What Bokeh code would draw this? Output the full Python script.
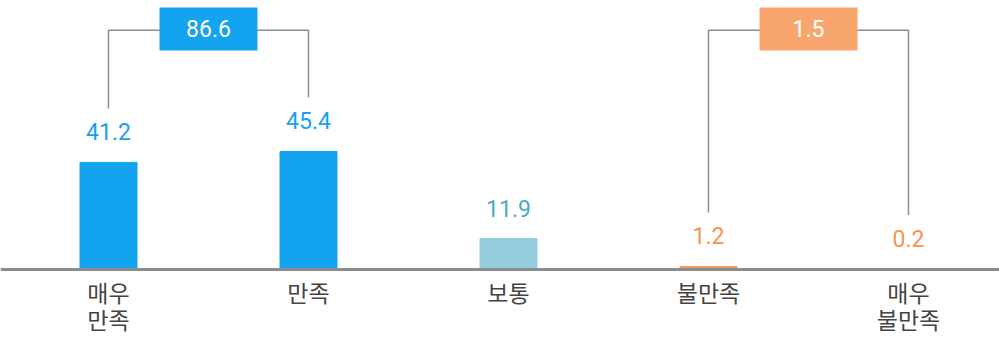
from bokeh.plotting import figure
from bokeh.models import Range1d, Span, ColumnDataSource
from bokeh.core.properties import value
from bokeh.embed import file_html
from bokeh.resources import INLINE

categories = ["매우\n만족", "만족", "보통", "불만족", "매우\n불만족"]
values = [41.2, 45.4, 11.9, 1.2, 0.2]
bar_colors = ["#13A3EF", "#13A3EF", "#95CDDE", "#F59A5B", "#F59A5B"]
label_colors = ["#1AA0EE", "#1AA0EE", "#4AAAC8", "#F5964F", "#F5964F"]
groups = [(0, 1, "86.6", "#13A3EF"), (3, 4, "1.5", "#F8A66E")]

idx = list(range(len(categories)))
PXU = 2.6  # pixels per data unit

p = figure(width=999, height=340, output_backend="svg", toolbar_location=None,
           x_range=Range1d(-0.54, 4.455), y_range=Range1d(-27.3, 103.46),
           min_border=0, min_border_left=0, min_border_right=0,
           min_border_top=0, min_border_bottom=0)
p.axis.visible = False
p.grid.visible = False
p.outline_line_color = None
p.background_fill_color = "white"

src = ColumnDataSource(dict(x=idx, top=values, color=bar_colors, lc=label_colors,
                            lab=[f"{v:.1f}" for v in values], cat=categories))

p.vbar(x="x", top="top", width=0.285, bottom=0, color="color", source=src)
p.add_layout(Span(location=0, dimension="width", line_color="#8C8C8C", line_width=3))

p.text(x="x", y="top", text="lab", text_color="lc", source=src,
       text_font=value("Roboto"), text_font_size="23px",
       text_align="center", text_baseline="bottom", y_offset=-22)

p.text(x="x", y=0, text="cat", source=src, text_color="#444444",
       text_font=value("Noto Sans CJK KR"), text_font_size="23px",
       text_align="center", text_baseline="top", y_offset=5, text_line_height=0.82)

bracket_top = 92.0
end_off = 54 / PXU
for i0, i1, txt, col in groups:
    p.line(x=[i0, i0, i1, i1],
           y=[values[i0] + end_off, bracket_top, bracket_top, values[i1] + end_off],
           line_color="#8E8E8E", line_width=1.5)
    cx = (i0 + i1) / 2
    p.rect(x=[cx], y=[bracket_top + 0.5], width=98, height=43,
           width_units="screen", height_units="screen", fill_color=col, line_color=None)
    p.text(x=[cx], y=[bracket_top + 0.5], text=[txt], text_color="white",
           text_font=value("Roboto"), text_font_size="23px",
           text_align="center", text_baseline="middle")

open("out.html", "w").write(file_html(p, INLINE))
